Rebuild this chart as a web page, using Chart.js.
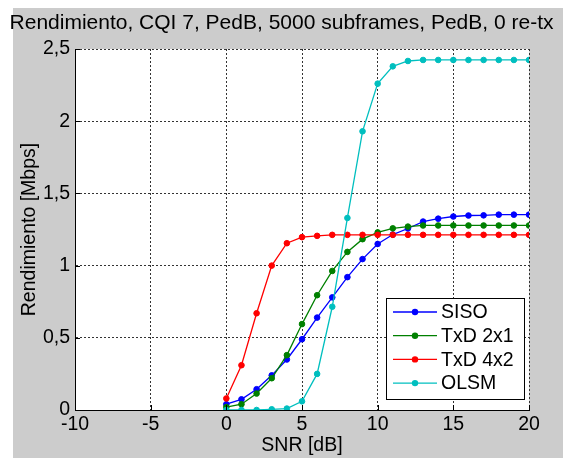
<!DOCTYPE html>
<html>
<head>
<meta charset="utf-8">
<script src="https://cdn.jsdelivr.net/npm/chart.js@4"></script>
<style>
html,body{margin:0;padding:0;background:#fff;}
canvas{display:block;}
</style>
</head>
<body>
<canvas id="c" width="563" height="458"></canvas>
<script>
const titleText = 'Rendimiento, CQI 7, PedB, 5000 subframes, PedB, 0 re-tx';
const xLabel = 'SNR [dB]';
const yLabel = 'Rendimiento [Mbps]';
const seriesNames = ['SISO', 'TxD 2x1', 'TxD 4x2', 'OLSM'];
const seriesColors = ['#0000ff', '#008000', '#ff0000', '#00bfbf'];
const snr = [0,1,2,3,4,5,6,7,8,9,10,11,12,13,14,15,16,17,18,19,20];
const siso   = [0.04,0.074,0.144,0.24,0.35,0.49,0.64,0.78,0.92,1.045,1.15,1.215,1.257,1.305,1.325,1.34,1.347,1.348,1.353,1.353,1.353];
const txd2x1 = [0.02,0.04,0.114,0.22,0.38,0.595,0.795,0.963,1.095,1.183,1.23,1.258,1.27,1.278,1.278,1.278,1.278,1.278,1.278,1.278,1.278];
const txd4x2 = [0.08,0.31,0.67,1.0,1.155,1.197,1.206,1.213,1.213,1.213,1.213,1.213,1.213,1.213,1.213,1.213,1.213,1.213,1.213,1.213,1.213];
const olsm   = [0,0,0,0.005,0.01,0.06,0.25,0.715,1.33,1.93,2.26,2.38,2.417,2.424,2.424,2.424,2.424,2.424,2.424,2.424,2.424];
const xTickValues = [-10,-5,0,5,10,15,20];
const xTickLabels = ['-10','-5','0','5','10','15','20'];
const yTickValues = [0,0.5,1,1.5,2,2.5];
const yTickLabels = ['0','0,5','1','1,5','2','2,5'];

const FONT = '"Liberation Sans", Arial, sans-serif';
const values = [siso, txd2x1, txd4x2, olsm];

const datasets = values.map((arr, i) => ({
  label: seriesNames[i],
  data: snr.map((x, j) => ({x: x, y: arr[j]})),
  borderColor: seriesColors[i],
  backgroundColor: seriesColors[i],
  pointBackgroundColor: seriesColors[i],
  pointBorderColor: seriesColors[i],
  borderWidth: 1.3,
  pointRadius: 2.8,
  pointBorderWidth: 1,
  tension: 0,
  fill: false,
  order: values.length - i
}));

const bgPlugin = {
  id: 'bg',
  beforeDraw(chart) {
    const ctx = chart.ctx, a = chart.chartArea;
    ctx.save();
    ctx.fillStyle = '#ffffff';
    ctx.fillRect(0, 0, chart.width, chart.height);
    ctx.fillStyle = '#cccccc';
    ctx.fillRect(13, 8, chart.width - 13, chart.height - 8);
    ctx.fillStyle = '#ffffff';
    ctx.fillRect(a.left, a.top, a.right - a.left, a.bottom - a.top);
    ctx.restore();
  },
  afterDraw(chart) {
    const ctx = chart.ctx, a = chart.chartArea;
    const xs = chart.scales.x, ys = chart.scales.y;
    ctx.save();
    // title
    ctx.fillStyle = '#000';
    ctx.font = '21px ' + FONT;
    ctx.textAlign = 'center';
    ctx.textBaseline = 'middle';
    ctx.fillText(titleText, chart.width / 2, 23);
    // inward ticks
    ctx.strokeStyle = '#000';
    ctx.lineWidth = 1;
    ctx.beginPath();
    xTickValues.forEach(v => {
      const px = Math.round(xs.getPixelForValue(v)) + 0.5;
      ctx.moveTo(px, a.bottom); ctx.lineTo(px, a.bottom - 5);
    });
    yTickValues.forEach(v => {
      const py = Math.round(ys.getPixelForValue(v)) + 0.5;
      ctx.moveTo(a.left, py); ctx.lineTo(a.left + 5, py);
    });
    ctx.stroke();
    // legend
    const lx = 386, ly = 298, lw = 138, lh = 101;
    ctx.fillStyle = '#fff';
    ctx.fillRect(lx, ly, lw, lh);
    ctx.strokeStyle = '#000';
    ctx.strokeRect(lx + 0.5, ly + 0.5, lw, lh);
    ctx.font = '19.5px ' + FONT;
    ctx.textAlign = 'left';
    ctx.textBaseline = 'middle';
    chart.data.datasets.forEach((ds, i) => {
      const y = 312 + i * 23.7;
      ctx.strokeStyle = ds.borderColor;
      ctx.lineWidth = 1.3;
      ctx.beginPath();
      ctx.moveTo(393, y); ctx.lineTo(437, y);
      ctx.stroke();
      ctx.fillStyle = ds.pointBackgroundColor;
      ctx.beginPath();
      ctx.arc(415, y, 3.2, 0, Math.PI * 2);
      ctx.fill();
      ctx.fillStyle = '#000';
      ctx.fillText(ds.label, 441, y + 1);
    });
    ctx.restore();
  }
};

new Chart(document.getElementById('c'), {
  type: 'line',
  data: { datasets: datasets },
  options: {
    responsive: false,
    animation: false,
    layout: { padding: { left: 0, right: 34, top: 49, bottom: 0 } },
    plugins: { legend: { display: false }, tooltip: { enabled: false }, title: { display: false } },
    scales: {
      x: {
        type: 'linear',
        min: -10, max: 20,
        afterFit(s) { s.height = 48; },
        afterBuildTicks(s) { s.ticks = xTickValues.map(v => ({value: v})); },
        ticks: {
          color: '#000',
          font: { family: FONT, size: 19.5 },
          padding: 3,
          maxRotation: 0,
          autoSkip: false,
          callback: (v) => xTickLabels[xTickValues.indexOf(v)]
        },
        grid: { color: '#333', lineWidth: 1, drawTicks: false },
        border: { display: true, color: '#000', width: 1, dash: [2, 2] },
        title: { display: true, text: xLabel, color: '#000', font: { family: FONT, size: 19.5 }, padding: { top: 0, bottom: 1 } }
      },
      y: {
        type: 'linear',
        min: 0, max: 2.5,
        afterFit(s) { s.width = 75; },
        afterBuildTicks(s) { s.ticks = yTickValues.map(v => ({value: v})); },
        ticks: {
          color: '#000',
          font: { family: FONT, size: 19.5 },
          padding: 5,
          autoSkip: false,
          callback: (v) => yTickLabels[yTickValues.indexOf(v)]
        },
        grid: { color: '#333', lineWidth: 1, drawTicks: false },
        border: { display: true, color: '#000', width: 1, dash: [2, 2] },
        title: { display: true, text: yLabel, color: '#000', font: { family: FONT, size: 19.5 }, padding: { top: 18, bottom: 0 } }
      }
    }
  },
  plugins: [bgPlugin]
});
</script>
</body>
</html>
